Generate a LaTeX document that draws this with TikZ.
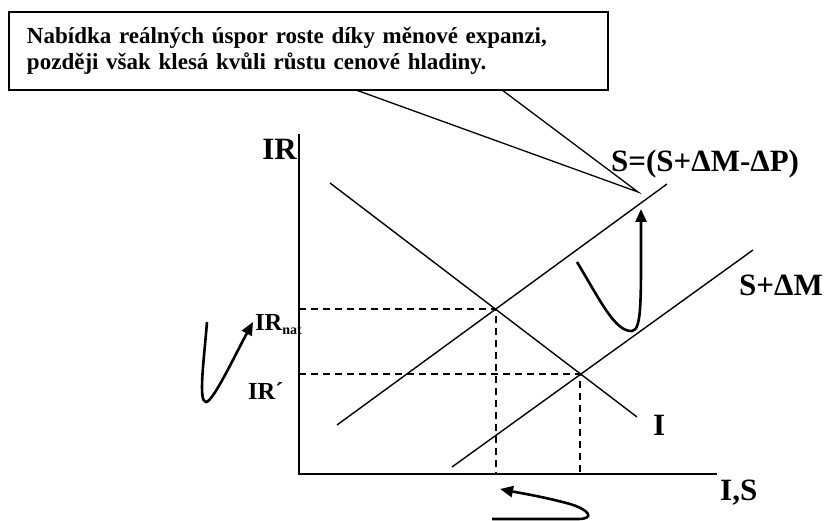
\documentclass[tikz,border=0pt]{standalone}
\usepackage{fontspec}
\setmainfont{Liberation Serif}
\usetikzlibrary{arrows.meta}
\tikzset{
  axisline/.style={line width=1.8pt},
  curveline/.style={line width=1.4pt},
  guide/.style={line width=1.4pt,dash pattern=on 7pt off 5pt},
  swing/.style={line width=2.6pt,-{Triangle[length=13pt,width=11pt]}},
  biglbl/.style={inner sep=0pt,font=\fontsize{31}{33}\selectfont\bfseries},
  midlbl/.style={inner sep=0pt,font=\fontsize{24.5}{26}\selectfont\bfseries},
  notebox/.style={draw,line width=1.6pt,fill=white,align=left,
    inner xsep=18pt,inner ysep=0pt,font=\fontsize{23}{26}\selectfont\bfseries}
}

\begin{document}
\begin{tikzpicture}[x=1pt,y=-1pt]
  \useasboundingbox (0,0) rectangle (824,521);

  % axes
  \coordinate (ytop) at (299,134);
  \coordinate (origin) at (299,474);
  \coordinate (xend) at (717,474);
  \draw[axisline] (ytop) -- (origin) -- (xend);
  \node[biglbl,anchor=base east] (irlbl) at (297,160) {IR};
  \node[biglbl,anchor=base west] (islbl) at (720,500) {I,S};

  % equilibria
  \coordinate (eqa) at (496,309);
  \coordinate (eqb) at (580,374);
  \draw[guide] (eqa -| origin) -- (eqa) -- (eqa |- origin);
  \draw[guide] (eqb -| origin) -- (eqb) -- (eqb |- origin);

  % curves
  \coordinate (ia) at (330,183);
  \coordinate (ib) at (637,417);
  \coordinate (sa) at (337,425);
  \coordinate (sb) at (667,184);
  \coordinate (sma) at (452,467);
  \coordinate (smb) at (753,250);
  \draw[curveline] (ia) -- (ib);
  \draw[curveline] (sa) -- (sb);
  \draw[curveline] (sma) -- (smb);
  \node[biglbl,anchor=base west] (ilbl) at (653,435) {I};
  \node[biglbl,anchor=base west] (slbl) at (611,172) {S=(S+ΔM-ΔP)};
  \node[biglbl,anchor=base west] (smlbl) at (739,295) {S+ΔM};
  \node[midlbl,anchor=base west] (natlbl) at (255,330)
    {IR\raisebox{-4pt}{\fontsize{14}{14}\selectfont nat}};
  \node[midlbl,anchor=base west] (primelbl) at (248,399) {IR´};

  % callout
  \coordinate (tip) at (638,192);
  \coordinate (pa) at (356,90);
  \coordinate (pb) at (502,90);
  \node[notebox,text width=563pt,minimum height=78pt] (note) at (308.5,51)
    {Nabídka reálných úspor roste díky měnové expanzi,\\
     později však klesá kvůli růstu cenové hladiny.};
  \draw[line width=1.3pt] (pa) -- (tip) -- (pb);

  % movement arrows
  \draw[swing] (207,322) .. controls (204,360) and (198,402) .. (206,402)
    .. controls (213,402) and (235,355) .. (253,322);
  \draw[swing] (577,262) .. controls (600,300) and (615,332) .. (632,331)
    .. controls (642,330) and (641,300) .. (641,209);
  \draw[swing] (492,519) -- (578,519) .. controls (595,519) and (590,510) .. (570,504)
    .. controls (545,497) and (520,493) .. (500,489);
\end{tikzpicture}
\end{document}
